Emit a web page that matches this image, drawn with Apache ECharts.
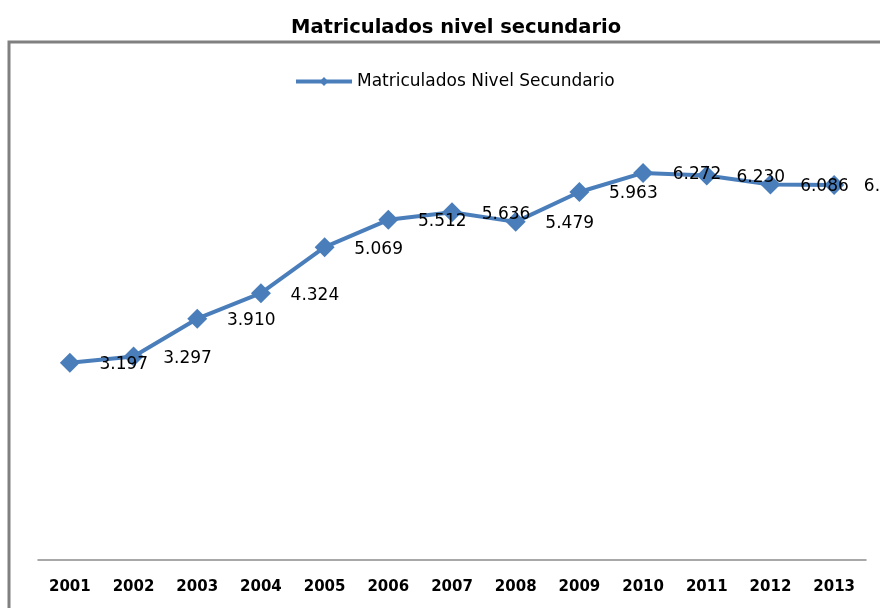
<!DOCTYPE html>
<html>
<head>
<meta charset="utf-8">
<script src="https://cdn.jsdelivr.net/npm/echarts@6/dist/echarts.min.js"></script>
<style>html,body{margin:0;padding:0;background:#fff;}#c{width:880px;height:608px;}</style>
</head>
<body>
<div id="c"></div>
<script>
const years = ['2001','2002','2003','2004','2005','2006','2007','2008','2009','2010','2011','2012','2013'];
const matriculados = [3197, 3297, 3910, 4324, 5069, 5512, 5636, 5479, 5963, 6272, 6230, 6086, 6078];
const seriesName = 'Matriculados Nivel Secundario';
const titleText = 'Matriculados nivel secundario';

function fmt(v){ return String(v).replace(/\B(?=(\d{3})+(?!\d))/g, '.'); }

const chart = echarts.init(document.getElementById('c'), null, {renderer:'canvas'});
chart.setOption({
  animation: false,
  backgroundColor: '#ffffff',
  title: {
    text: titleText, left: 286, top: 13,
    textStyle: {fontFamily: 'DejaVu Sans', fontWeight: 'bold', fontSize: 19.5, color: '#000'}
  },
  graphic: [{
    type: 'rect', shape: {x: 9, y: 42, width: 900, height: 620},
    style: {fill: 'none', stroke: '#808080', lineWidth: 3}, silent: true, z: -1
  }],
  legend: {
    top: 68, left: 289, itemWidth: 56, itemHeight: 11, itemGap: 6,
    lineStyle: {width: 4},
    textStyle: {fontFamily: 'DejaVu Sans', fontSize: 17, color: '#000'},
    data: [seriesName]
  },
  grid: {left: 38, right: 14, top: 128, bottom: 48},
  xAxis: {
    type: 'category', data: years, boundaryGap: true,
    axisLine: {lineStyle: {color: '#8c8c8c', width: 1.5}},
    axisTick: {show: false},
    axisLabel: {fontFamily: 'DejaVu Sans', fontWeight: 'bold', fontSize: 15, color: '#000', margin: 20}
  },
  yAxis: {
    type: 'value', min: 0, max: 7000, interval: 1000, show: false,
    splitLine: {show: false}
  },
  series: [{
    name: seriesName, type: 'line', data: matriculados,
    symbol: 'diamond', symbolSize: 20,
    lineStyle: {color: '#4a7ebb', width: 4},
    itemStyle: {color: '#4a7ebb'},
    label: {
      show: true, position: 'inside', offset: [54, 2],
      fontFamily: 'DejaVu Sans', fontSize: 17, color: '#000',
      formatter: p => fmt(p.value)
    }
  }]
});
</script>
</body>
</html>
